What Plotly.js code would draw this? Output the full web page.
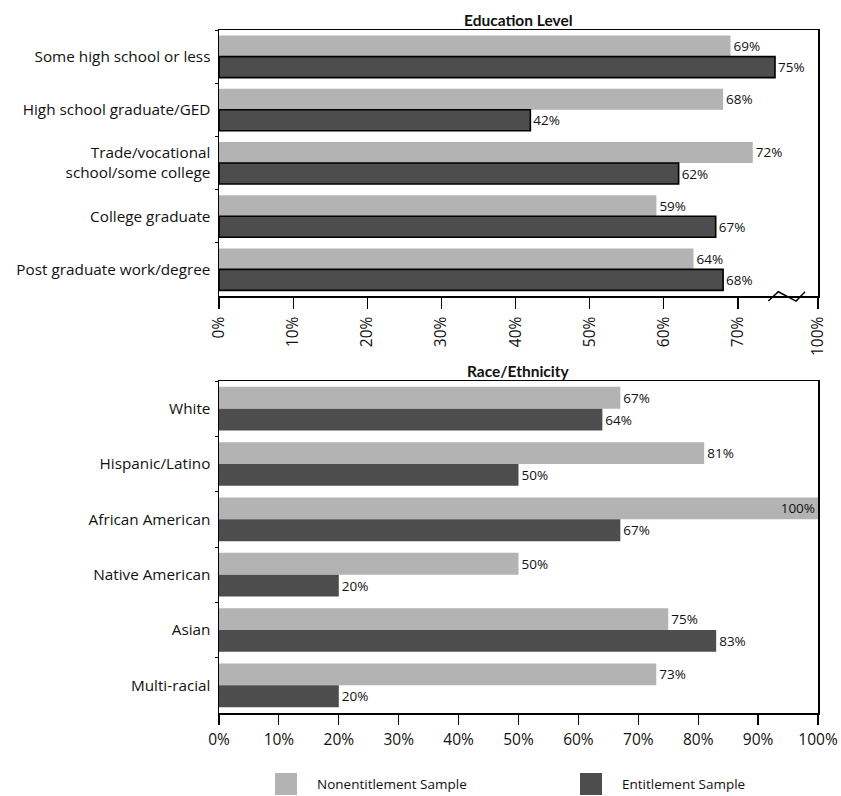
<!DOCTYPE html>
<html>
<head>
<meta charset="utf-8">
<script src="https://cdn.plot.ly/plotly-3.0.1.min.js"></script>
<style>html,body{margin:0;padding:0;background:#fff;}#chart{width:841px;height:796px;}</style>
</head>
<body>
<div id="chart"></div>
<script>
// ---- data ----
const eduCategories = ['Some high school or less', 'High school graduate/GED', 'Trade/vocational<br>school/some college', 'College graduate', 'Post graduate work/degree'];
const eduNonentitlement = [69, 68, 72, 59, 64];
const eduEntitlement = [75, 42, 62, 67, 68];

const raceCategories = ['White', 'Hispanic/Latino', 'African American', 'Native American', 'Asian', 'Multi-racial'];
const raceNonentitlement = [67, 81, 100, 50, 75, 73];
const raceEntitlement = [64, 50, 67, 20, 83, 20];

// top axis is broken after 70%: the last tick stands for 100%
const eduTickVals = [0, 10, 20, 30, 40, 50, 60, 70, 80.8];
const eduTickText = ['0%', '10%', '20%', '30%', '40%', '50%', '60%', '70%', '100%'];
const raceTickVals = [0, 10, 20, 30, 40, 50, 60, 70, 80, 90, 100];
const raceTickText = ['0%', '10%', '20%', '30%', '40%', '50%', '60%', '70%', '80%', '90%', '100%'];

const seriesNames = ['Nonentitlement Sample', 'Entitlement Sample'];

// ---- style ----
const FONT = '"Open Sans", "Noto Sans", sans-serif';
const TFONT = 'Lato, "Open Sans", sans-serif';
const LIGHT = '#b3b3b3';
const DARK = '#4d4d4d';
const INK = '#111111';
const seriesColors = [LIGHT, DARK];

const labelFont = {family: FONT, size: 13.5, color: INK};

const pct = vals => vals.map(v => v + '%');
const pos = vals => vals.map(v => v >= 95 ? 'inside' : 'outside');

function barTrace(name, x, y, xa, ya, color, outline) {
  return {
    type: 'bar', orientation: 'h', name: name, showlegend: false,
    x: x, y: y, xaxis: xa, yaxis: ya,
    marker: {color: color, line: outline ? {width: 1.6, color: '#000'} : {width: 0}},
    text: pct(x), textposition: pos(x), texttemplate: '%{text}',
    textfont: labelFont, insidetextfont: labelFont, outsidetextfont: labelFont,
    insidetextanchor: 'end', constraintext: 'none', cliponaxis: false,
    hoverinfo: 'skip'
  };
}

const traces = [
  barTrace(seriesNames[0], eduNonentitlement, eduCategories, 'x', 'y', LIGHT, false),
  barTrace(seriesNames[1], eduEntitlement, eduCategories, 'x', 'y', DARK, true),
  barTrace(seriesNames[0], raceNonentitlement, raceCategories, 'x2', 'y2', LIGHT, false),
  barTrace(seriesNames[1], raceEntitlement, raceCategories, 'x2', 'y2', DARK, false)
];

const plotTop = 30, plotBottom = 713, H = plotBottom - plotTop, L = 219, R = 23, W = 841 - R - L;
const fy = px => (plotBottom - px) / H;
const fx = px => (px - L) / W;

const axisCommon = {
  showline: true, mirror: true, linecolor: '#000', linewidth: 1.5,
  showgrid: false, zeroline: false, fixedrange: true
};

// legend drawn as swatches + labels (large square swatches)
const legendX = [275, 580];
const legendShapes = seriesNames.map((n, i) => ({
  type: 'rect', xref: 'paper', yref: 'paper',
  x0: fx(legendX[i]), x1: fx(legendX[i] + 22), y0: fy(795), y1: fy(773),
  fillcolor: seriesColors[i], line: {width: 0}
}));
const legendLabels = seriesNames.map((n, i) => ({
  text: n, xref: 'paper', yref: 'paper', x: fx(legendX[i] + 40), y: fy(784),
  xanchor: 'left', yanchor: 'middle', showarrow: false,
  font: {family: FONT, size: 13.5, color: INK}
}));

const layout = {
  width: 841, height: 796,
  margin: {l: L, r: R, t: plotTop, b: 796 - plotBottom, pad: 0, autoexpand: false},
  paper_bgcolor: '#fff', plot_bgcolor: '#fff',
  font: {family: FONT, size: 14, color: INK},
  barmode: 'group', bargap: 0.21, bargroupgap: 0,
  showlegend: false,
  xaxis: Object.assign({}, axisCommon, {
    domain: [0, 1], anchor: 'y', range: [0, 80.8],
    tickmode: 'array', tickvals: eduTickVals, ticktext: eduTickText,
    ticks: 'outside', ticklen: 11, tickwidth: 1.2, tickcolor: '#000',
    tickangle: -90, tickfont: {family: FONT, size: 15.5, color: INK}, ticklabelstandoff: 2
  }),
  yaxis: Object.assign({}, axisCommon, {
    domain: [fy(296), 1], anchor: 'x',
    autorange: 'reversed', type: 'category',
    ticks: 'outside', ticklen: 3, tickcolor: '#000', tickson: 'boundaries',
    tickfont: {family: FONT, size: 15.3, color: INK}, ticklabelstandoff: 4
  }),
  xaxis2: Object.assign({}, axisCommon, {
    domain: [0, 1], anchor: 'y2', range: [0, 100],
    tickmode: 'array', tickvals: raceTickVals, ticktext: raceTickText,
    ticks: 'outside', ticklen: 10, tickwidth: 1.2, tickcolor: '#000',
    tickfont: {family: FONT, size: 15.5, color: INK}, ticklabelstandoff: 2
  }),
  yaxis2: Object.assign({}, axisCommon, {
    domain: [0, fy(381)], anchor: 'x2',
    autorange: 'reversed', type: 'category',
    ticks: 'outside', ticklen: 3, tickcolor: '#000', tickson: 'boundaries',
    tickfont: {family: FONT, size: 15.3, color: INK}, ticklabelstandoff: 4
  }),
  annotations: [
    {text: '<b>Education Level</b>', xref: 'paper', yref: 'y domain', x: 0.5, y: 1, yanchor: 'bottom',
     showarrow: false, font: {family: TFONT, size: 15.5, color: INK}, yshift: -1},
    {text: '<b>Race/Ethnicity</b>', xref: 'paper', yref: 'y2 domain', x: 0.5, y: 1, yanchor: 'bottom',
     showarrow: false, font: {family: TFONT, size: 15.5, color: INK}, yshift: -1}
  ].concat(legendLabels),
  shapes: [
    // axis-break marker on the top chart
    {type: 'path', xref: 'x', yref: 'y domain',
     path: 'M 74.1 -0.019 L 75.45 0.016 L 77.84 -0.019 L 79.05 0.016',
     line: {color: '#000', width: 1.5}}
  ].concat(legendShapes)
};

Plotly.newPlot('chart', traces, layout, {displayModeBar: false, staticPlot: true});
</script>
</body>
</html>
